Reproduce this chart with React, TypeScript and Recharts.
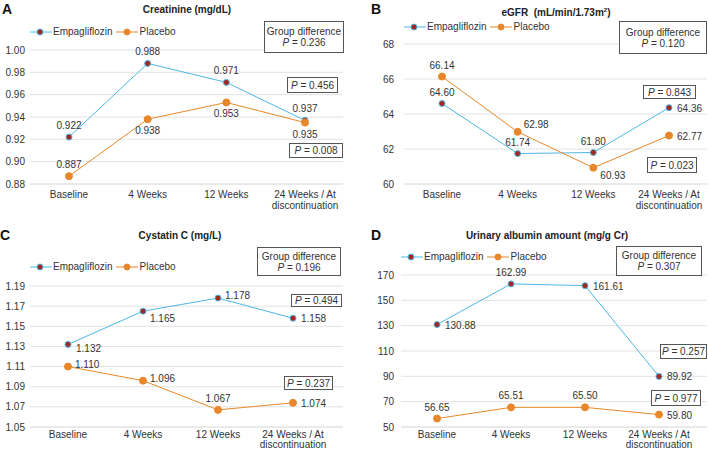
import React from "react";
import { LineChart, Line, XAxis, YAxis, CartesianGrid, Legend, LabelList } from "recharts";

const categories = ["Baseline", "4 Weeks", "12 Weeks", "24 Weeks / At\ndiscontinuation"];

const creatinineEmpa = [0.922, 0.988, 0.971, 0.937];
const creatininePlacebo = [0.887, 0.938, 0.953, 0.935];
const creatinineTicks = [0.88, 0.9, 0.92, 0.94, 0.96, 0.98, 1.0];

const egfrEmpa = [64.6, 61.74, 61.8, 64.36];
const egfrPlacebo = [66.14, 62.98, 60.93, 62.77];
const egfrTicks = [60, 62, 64, 66, 68];

const cystatinEmpa = [1.132, 1.165, 1.178, 1.158];
const cystatinPlacebo = [1.11, 1.096, 1.067, 1.074];
const cystatinTicks = [1.05, 1.07, 1.09, 1.11, 1.13, 1.15, 1.17, 1.19];

const albuminEmpa = [130.88, 162.99, 161.61, 89.92];
const albuminPlacebo = [56.65, 65.51, 65.5, 59.8];
const albuminTicks = [50, 70, 90, 110, 130, 150, 170];

const groupP = ["0.236", "0.120", "0.196", "0.307"];
const empaP = ["0.456", "0.843", "0.494", "0.257"];
const placeboP = ["0.008", "0.023", "0.237", "0.977"];

const FONT = "'Liberation Sans', Arial, sans-serif";
const BLUE = "#4db8e8";
const DARKRED = "#a3281f";
const ORANGE = "#e8872a";
const INK = "#333";

// where a value label sits relative to its point: [dx, dy, anchor]
const LABEL_OFFSETS: Record<string, [number, number, "middle" | "start"]> = {
  top: [0, -8, "middle"],
  bottom: [0, 15, "middle"],
  right: [8, 4, "start"],
  topRight: [6, -4, "start"],
  bottomRight: [7, 11, "start"],
  rightLow: [8, 8, "start"],
  rightHigh: [7, 1, "start"],
};

type Pos = keyof typeof LABEL_OFFSETS;

const labelFor = (positions: Pos[], decimals: number) => (props: any) => {
  const { x, y, value, index } = props;
  const [dx, dy, anchor] = LABEL_OFFSETS[positions[index] ?? "top"];
  return (
    <text x={x + dx} y={y + dy} textAnchor={anchor} fontSize={10} fill={INK} fontFamily={FONT}>
      {Number(value).toFixed(decimals)}
    </text>
  );
};

const CategoryTick = (props: any) => {
  const { x, y, payload, firstDy = 14, lineDy = 11 } = props;
  const lines = String(payload.value).split("\n");
  return (
    <text x={x} y={y} textAnchor="middle" fontSize={10} fill={INK} fontFamily={FONT}>
      {lines.map((l, i) => (
        <tspan key={i} x={x} dy={i === 0 ? firstDy : lineDy}>
          {l}
        </tspan>
      ))}
    </text>
  );
};

const LegendContent = () => (
  <div style={{ display: "flex", alignItems: "center", fontSize: 10, color: INK, fontFamily: FONT, whiteSpace: "nowrap" }}>
    <svg width={22} height={8}>
      <line x1={0} y1={4} x2={22} y2={4} stroke={BLUE} strokeWidth={1} />
      <circle cx={10} cy={4} r={3} fill={DARKRED} stroke={BLUE} strokeWidth={1} />
    </svg>
    <span style={{ marginLeft: 1, marginRight: 4 }}>Empagliflozin</span>
    <svg width={22} height={8}>
      <line x1={0} y1={4} x2={22} y2={4} stroke={ORANGE} strokeWidth={1} />
      <circle cx={11} cy={4} r={3} fill={ORANGE} stroke={ORANGE} strokeWidth={1} />
    </svg>
    <span style={{ marginLeft: 1 }}>Placebo</span>
  </div>
);

type Box = [number, number, number, number];

const PBox = ({ box, children }: { box: Box; children: React.ReactNode }) => (
  <div
    style={{
      position: "absolute",
      left: box[0],
      top: box[1],
      width: box[2],
      height: box[3],
      border: "1px solid #555",
      boxSizing: "border-box",
      background: "#fff",
      display: "flex",
      flexDirection: "column",
      justifyContent: "center",
      alignItems: "center",
      fontSize: 10,
      lineHeight: "11px",
      color: INK,
      fontFamily: FONT,
      whiteSpace: "nowrap",
    }}
  >
    {children}
  </div>
);

interface PanelProps {
  left: number;
  top: number;
  width: number;
  height: number;
  letter: string;
  letterX: number;
  title: React.ReactNode;
  titleX: number;
  empa: number[];
  placebo: number[];
  ticks: number[];
  decimals: number;
  yWidth: number;
  yGap: number;
  plotTop: number;
  xHeight: number;
  tickDy: [number, number];
  right: number;
  padL: number;
  padR: number;
  legendX: number;
  legendY: number;
  empaPos: Pos[];
  placeboPos: Pos[];
  groupBox: Box;
  empaBox: Box;
  placeboBox: Box;
  idx: number;
}

function Panel(p: PanelProps) {
  const data = categories.map((c, i) => ({ cat: c, empa: p.empa[i], placebo: p.placebo[i] }));
  const tickDecimals = p.decimals === 3 ? 2 : 0;
  return (
    <div style={{ position: "absolute", left: p.left, top: p.top, width: p.width, height: p.height }}>
      <LineChart
        width={p.width}
        height={p.height}
        data={data}
        margin={{ top: p.plotTop, right: p.right, left: 0, bottom: 0 }}
      >
        <CartesianGrid vertical={false} stroke="#e2e2e2" />
        <XAxis
          dataKey="cat"
          interval={0}
          height={p.xHeight}
          tickLine={false}
          tickSize={0}
          tickMargin={0}
          axisLine={{ stroke: "#e2e2e2" }}
          padding={{ left: p.padL, right: p.padR }}
          tick={<CategoryTick firstDy={p.tickDy[0]} lineDy={p.tickDy[1]} />}
        />
        <YAxis
          width={p.yWidth}
          domain={[p.ticks[0], p.ticks[p.ticks.length - 1]]}
          ticks={p.ticks}
          interval={0}
          axisLine={false}
          tickLine={false}
          tickSize={0}
          tickMargin={p.yGap}
          tickFormatter={(v: number) => v.toFixed(tickDecimals)}
          tick={{ fill: INK, fontSize: 10, fontFamily: FONT }}
        />
        <Legend
          layout="vertical"
          align="center"
          verticalAlign="middle"
          content={<LegendContent />}
          wrapperStyle={{ left: p.legendX, top: p.legendY, width: "auto" }}
        />
        <Line
          dataKey="empa"
          name="Empagliflozin"
          stroke={BLUE}
          strokeWidth={1}
          dot={{ r: 3, fill: DARKRED, stroke: BLUE, strokeWidth: 1 }}
          isAnimationActive={false}
        >
          <LabelList dataKey="empa" content={labelFor(p.empaPos, p.decimals)} />
        </Line>
        <Line
          dataKey="placebo"
          name="Placebo"
          stroke={ORANGE}
          strokeWidth={1}
          dot={{ r: 3.5, fill: ORANGE, stroke: ORANGE, strokeWidth: 1 }}
          isAnimationActive={false}
        >
          <LabelList dataKey="placebo" content={labelFor(p.placeboPos, p.decimals)} />
        </Line>
      </LineChart>
      <div
        style={{
          position: "absolute",
          left: p.letterX,
          top: 1,
          fontSize: 14,
          fontWeight: "bold",
          fontFamily: FONT,
          color: "#111",
        }}
      >
        {p.letter}
      </div>
      <div
        style={{
          position: "absolute",
          left: p.titleX - 110,
          width: 220,
          top: 4,
          textAlign: "center",
          fontSize: 10,
          lineHeight: "12px",
          fontWeight: "bold",
          fontFamily: FONT,
          color: "#222",
        }}
      >
        {p.title}
      </div>
      <PBox box={p.groupBox}>
        <span>Group difference</span>
        <span>
          <i>P</i> = {groupP[p.idx]}
        </span>
      </PBox>
      <PBox box={p.empaBox}>
        <span>
          <i>P</i> = {empaP[p.idx]}
        </span>
      </PBox>
      <PBox box={p.placeboBox}>
        <span>
          <i>P</i> = {placeboP[p.idx]}
        </span>
      </PBox>
    </div>
  );
}

export default function App() {
  return (
    <div style={{ position: "absolute", left: 0, top: 0, width: 709, height: 453, background: "#fff", overflow: "hidden" }}>
      <Panel
        idx={0}
        left={0}
        top={0}
        width={354}
        height={226}
        letter="A"
        letterX={2}
        title="Creatinine (mg/dL)"
        titleX={187}
        empa={creatinineEmpa}
        placebo={creatininePlacebo}
        ticks={creatinineTicks}
        decimals={3}
        yWidth={30}
        yGap={5}
        plotTop={50}
        xHeight={42}
        tickDy={[14, 11]}
        right={11}
        padL={39}
        padR={38}
        legendX={30}
        legendY={26}
        empaPos={["top", "top", "top", "top"]}
        placeboPos={["top", "bottom", "bottom", "bottom"]}
        groupBox={[264, 21, 80, 32]}
        empaBox={[287, 77, 51, 16]}
        placeboBox={[289, 143, 54, 15]}
      />
      <Panel
        idx={1}
        left={354}
        top={0}
        width={355}
        height={226}
        letter="B"
        letterX={17}
        title={
          <span>
            eGFR&nbsp;&nbsp;(mL/min/1.73m<sup style={{ fontSize: 6 }}>2</sup>)
          </span>
        }
        titleX={202}
        empa={egfrEmpa}
        placebo={egfrPlacebo}
        ticks={egfrTicks}
        decimals={2}
        yWidth={50}
        yGap={10}
        plotTop={44}
        xHeight={42}
        tickDy={[14, 11]}
        right={2}
        padL={38}
        padR={38}
        legendX={50}
        legendY={21}
        empaPos={["top", "top", "top", "right"]}
        placeboPos={["top", "topRight", "bottomRight", "right"]}
        groupBox={[265, 21, 88, 33]}
        empaBox={[289, 85, 53, 14]}
        placeboBox={[293, 157, 50, 16]}
      />
      <Panel
        idx={2}
        left={0}
        top={226}
        width={354}
        height={227}
        letter="C"
        letterX={0}
        title="Cystatin C (mg/L)"
        titleX={180}
        empa={cystatinEmpa}
        placebo={cystatinPlacebo}
        ticks={cystatinTicks}
        decimals={3}
        yWidth={30}
        yGap={5}
        plotTop={60}
        xHeight={26}
        tickDy={[11, 9.5]}
        right={11}
        padL={38}
        padR={50}
        legendX={30}
        legendY={35}
        empaPos={["rightLow", "bottomRight", "rightHigh", "right"]}
        placeboPos={["rightHigh", "rightHigh", "top", "right"]}
        groupBox={[257, 21, 84, 29]}
        empaBox={[291, 68, 51, 13]}
        placeboBox={[284, 150, 49, 14]}
      />
      <Panel
        idx={3}
        left={354}
        top={226}
        width={355}
        height={227}
        letter="D"
        letterX={17}
        title="Urinary albumin amount (mg/g Cr)"
        titleX={193}
        empa={albuminEmpa}
        placebo={albuminPlacebo}
        ticks={albuminTicks}
        decimals={2}
        yWidth={47}
        yGap={7}
        plotTop={49}
        xHeight={26}
        tickDy={[11, 9.5]}
        right={2}
        padL={36}
        padR={48}
        legendX={47}
        legendY={25}
        empaPos={["right", "top", "right", "right"]}
        placeboPos={["top", "top", "top", "right"]}
        groupBox={[262, 20, 86, 30]}
        empaBox={[306, 118, 47, 15]}
        placeboBox={[297, 164, 50, 16]}
      />
    </div>
  );
}
